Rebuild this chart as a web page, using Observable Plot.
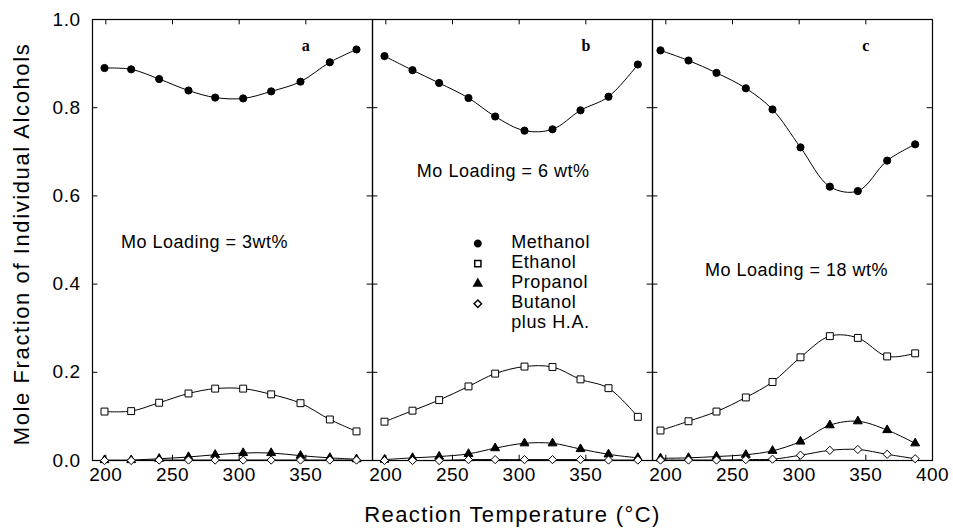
<!DOCTYPE html>
<html>
<head>
<meta charset="utf-8">
<script src="https://cdn.jsdelivr.net/npm/d3@7"></script>
<script src="https://cdn.jsdelivr.net/npm/@observablehq/plot@0.6"></script>
<style>
  html, body { margin: 0; padding: 0; background: #fff; }
  #chart svg { display: block; }
  g[aria-description="axistitles"] text { letter-spacing: 1.4px; }
  g[aria-description="ytitle"] text { letter-spacing: 1.6px; }
  g[aria-description="loading"] text { letter-spacing: 0.5px; }
  g[aria-description="legendtext"] text { letter-spacing: 0.6px; }
  g[aria-description="ticklabels"] text { letter-spacing: 0.5px; }
</style>
</head>
<body>
<div id="chart"></div>
<script>
// ---- data ----
const panels = ["a", "b", "c"];
const seriesNames = ["Methanol", "Ethanol", "Propanol", "Butanol"];
const legendLabels = ["Methanol", "Ethanol", "Propanol", "Butanol\nplus H.A."];
const loadingLabels = ["Mo Loading = 3wt%", "Mo Loading = 6 wt%", "Mo Loading = 18 wt%"];
const xTickValues = [200, 250, 300, 350];
const xTickValuesLast = [200, 250, 300, 350, 400];
const yTickValues = [0.0, 0.2, 0.4, 0.6, 0.8, 1.0];
const xTitle = "Reaction Temperature (°C)";
const yTitle = "Mole Fraction of Individual Alcohols";

const tempsA = [199, 219, 240, 262, 282, 303, 324, 346, 368, 388];
const tempsB = [199, 220, 240, 262, 282, 304, 325, 346, 367, 389];
const tempsC = [196, 217, 238, 260, 280, 301, 323, 344, 366, 387];

const methanolA = [0.890, 0.887, 0.865, 0.839, 0.823, 0.821, 0.837, 0.859, 0.903, 0.932];
const ethanolA  = [0.111, 0.112, 0.131, 0.152, 0.163, 0.163, 0.150, 0.130, 0.093, 0.066];
const propanolA = [0.001, 0.001, 0.004, 0.008, 0.013, 0.017, 0.017, 0.011, 0.006, 0.003];
const butanolA  = [0.000, 0.000, 0.001, 0.001, 0.001, 0.001, 0.001, 0.001, 0.001, 0.001];

const methanolB = [0.917, 0.885, 0.856, 0.822, 0.780, 0.748, 0.751, 0.794, 0.825, 0.898];
const ethanolB  = [0.088, 0.113, 0.137, 0.168, 0.197, 0.213, 0.212, 0.184, 0.164, 0.099];
const propanolB = [0.002, 0.006, 0.009, 0.015, 0.028, 0.039, 0.039, 0.026, 0.014, 0.006];
const butanolB  = [0.000, 0.000, 0.000, 0.002, 0.002, 0.002, 0.002, 0.002, 0.001, 0.001];

const methanolC = [0.930, 0.907, 0.879, 0.844, 0.796, 0.710, 0.621, 0.611, 0.680, 0.717];
const ethanolC  = [0.068, 0.089, 0.111, 0.143, 0.178, 0.234, 0.282, 0.278, 0.236, 0.243];
const propanolC = [0.005, 0.006, 0.009, 0.013, 0.022, 0.043, 0.080, 0.089, 0.069, 0.039];
const butanolC  = [0.001, 0.001, 0.001, 0.002, 0.003, 0.012, 0.023, 0.025, 0.014, 0.004];

// ---- tables built from the arrays ----
const panelData = {
  a: {temps: tempsA, series: [methanolA, ethanolA, propanolA, butanolA]},
  b: {temps: tempsB, series: [methanolB, ethanolB, propanolB, butanolB]},
  c: {temps: tempsC, series: [methanolC, ethanolC, propanolC, butanolC]}
};
const rows = [];
for (const p of panels) {
  const {temps, series} = panelData[p];
  series.forEach((vals, si) => vals.forEach((v, i) => rows.push({panel: p, series: seriesNames[si], temp: temps[i], value: v})));
}
const xTickRows = panels.flatMap(p => (p === "c" ? xTickValuesLast : xTickValues).map(x => ({panel: p, x})));
const yTickRows = panels.flatMap(p => yTickValues.slice(1, -1).map(y => ({panel: p, y})));
const loadingRows = panels.map((p, i) => ({panel: p, text: loadingLabels[i]}));
const loadingPos = {a: [274, 0.494], b: [288, 0.655], c: [298, 0.431]};

const font = "'Liberation Sans', Arial, Helvetica, sans-serif";
const bySeries = s => rows.filter(d => d.series === s);
const symbols = {Methanol: ["circle", 3.6, "black"], Ethanol: ["square", 3.9, "white"], Propanol: ["triangle", 3.3, "black"], Butanol: ["diamond2", 3.7, "white"]};

const chart = Plot.plot({
  width: 953,
  height: 531,
  marginLeft: 91,
  marginRight: 20,
  marginTop: 19,
  marginBottom: 71,
  style: {fontFamily: font, background: "white", color: "black"},
  fx: {domain: panels, padding: 0, axis: null},
  x: {domain: [190, 400], axis: null},
  y: {domain: [0, 1], axis: null},
  marks: [
    Plot.frame({stroke: "black", strokeWidth: 1.2}),
    // inward ticks
    Plot.ruleX(xTickRows, {fx: "panel", x: "x", y1: 0, y2: 0.012, stroke: "black"}),
    Plot.ruleX(xTickRows, {fx: "panel", x: "x", y1: 1, y2: 0.988, stroke: "black"}),
    Plot.ruleY(yTickRows, {fx: "panel", y: "y", x1: 190, x2: 194, stroke: "black"}),
    Plot.ruleY(yTickRows, {fx: "panel", y: "y", x1: 396, x2: 400, stroke: "black"}),
    // curves
    Plot.line(rows, {fx: "panel", x: "temp", y: "value", z: "series", curve: "catmull-rom", stroke: "black", strokeWidth: 1}),
    // markers
    ...seriesNames.map(s => Plot.dot(bySeries(s), {fx: "panel", x: "temp", y: "value", symbol: () => symbols[s][0], r: symbols[s][1], fill: symbols[s][2], stroke: "black", strokeWidth: 1})),
    // tick labels
    Plot.text(xTickRows, {fx: "panel", x: "x", frameAnchor: "bottom", dy: 20, text: d => String(d.x), fontSize: 19, ariaDescription: "ticklabels"}),
    Plot.text(yTickValues, {fx: () => "a", y: d => d, frameAnchor: "left", textAnchor: "end", dx: -12, text: d => d.toFixed(1), fontSize: 19, ariaDescription: "ticklabels"}),
    // axis titles
    Plot.text([xTitle], {fx: () => "b", frameAnchor: "bottom", dy: 61, text: d => d, fontSize: 22, ariaDescription: "axistitles"}),
    Plot.text([yTitle], {fx: () => "a", frameAnchor: "left", textAnchor: "middle", dx: -71, dy: 4, rotate: -90, text: d => d, fontSize: 22, ariaDescription: "ytitle"}),
    // panel letters
    Plot.text(panels, {fx: d => d, x: () => 350, y: () => 0.94, text: d => d, fontFamily: "'Liberation Serif', 'DejaVu Serif', serif", fontWeight: "bold", fontSize: 16}),
    // loading annotations
    Plot.text(loadingRows, {fx: "panel", x: d => loadingPos[d.panel][0], y: d => loadingPos[d.panel][1], text: "text", fontSize: 18, ariaDescription: "loading"}),
    // legend (panel b)
    ...seriesNames.map((s, i) => Plot.dot([s], {fx: () => "b", x: () => 269, y: () => 0.492 - i * 0.0455, symbol: () => symbols[s][0], r: symbols[s][1] * 0.9, fill: symbols[s][2], stroke: "black"})),
    Plot.text(legendLabels, {fx: () => "b", x: () => 294, y: (d, i) => 0.492 - i * 0.0455, text: d => d, textAnchor: "start", lineAnchor: "top", dy: -10, lineHeight: 1.12, fontSize: 18, ariaDescription: "legendtext"})
  ]
});
document.getElementById("chart").appendChild(chart);
</script>
</body>
</html>
